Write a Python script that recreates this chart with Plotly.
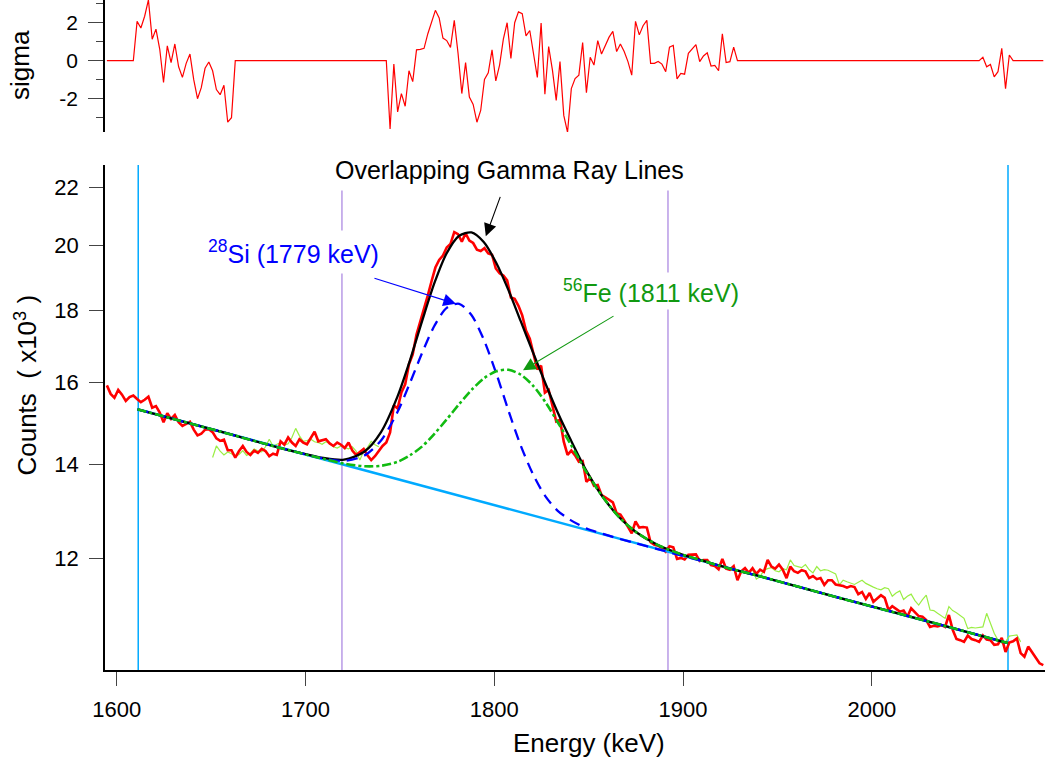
import numpy as np
import plotly.graph_objects as go

# ---------------- data ----------------
CH_START = 1594.8   # keV, energy of first channel
CH_STEP = 2.0       # keV per channel

RED_COUNTS = [  # measured spectrum (x10^3 counts)
    15.92, 15.70, 15.60, 15.80, 15.68, 15.52, 15.62, 15.66,
    15.57, 15.49, 15.55, 15.63, 15.35, 15.39, 15.23, 14.99, 15.21, 15.07, 15.17, 14.99,
    14.90, 14.96, 15.00, 14.81, 14.67, 14.71, 14.81, 14.82, 14.75, 14.60, 14.54, 14.57,
    14.32, 14.32,
    14.15, 14.30, 14.42, 14.28, 14.21, 14.31, 14.26, 14.35, 14.30, 14.18, 14.24, 14.21,
    14.53, 14.45, 14.62, 14.50, 14.42, 14.58, 14.50, 14.46, 14.60, 14.76, 14.53, 14.55,
    14.58, 14.48, 14.42, 14.50, 14.45, 14.37, 14.50, 14.31, 14.21, 14.28, 14.35, 14.20,
    14.09, 14.18, 14.30, 14.42, 14.50,
    14.74, 15.41, 15.33, 15.74, 15.95, 16.48, 16.75, 17.30, 17.66, 18.01,
    18.44, 18.88, 19.30, 19.54, 19.68, 19.94, 20.06, 20.45, 20.38, 20.13,
    20.41, 20.17, 20.09, 19.87, 19.83, 19.92, 19.75, 19.71, 19.27, 19.12,
    19.05, 18.90, 18.38, 18.34, 18.13, 17.85, 17.41, 17.18, 16.74, 16.34,
    16.44, 15.73, 15.80, 15.43, 15.01, 15.05, 14.52, 14.21, 14.31, 14.20,
    14.05, 14.07, 13.60, 13.69, 13.51, 13.53, 13.31, 13.26, 13.21, 13.15,
    12.92, 12.89, 12.77, 12.64, 12.50, 12.75, 12.62, 12.63, 12.62, 12.32,
    12.27, 12.25, 12.20, 12.13, 12.24, 12.22, 11.99, 12.01, 11.98, 12.07,
    12.08, 12.08, 11.95, 11.97, 11.97, 11.87, 11.85, 11.79, 11.99, 11.80,
    11.78, 11.85,
    11.58, 11.75, 11.81, 11.72, 11.81, 11.70, 11.78, 11.74, 11.97, 11.84,
    11.80, 11.88, 11.78, 11.62, 11.84, 11.75, 11.72, 11.77, 11.75, 11.62,
    11.66, 11.60, 11.62, 11.49, 11.58, 11.58, 11.50, 11.49, 11.47, 11.44,
    11.47, 11.45, 11.32, 11.36, 11.23, 11.34, 11.18, 11.24, 11.30, 11.25,
    11.03, 11.10, 11.05, 11.00, 11.02, 10.91, 11.06, 10.98, 10.92, 10.91,
    10.85, 10.73, 10.75, 10.74, 10.76, 10.73, 10.94, 10.68, 10.52, 10.50,
    10.47, 10.58, 10.52, 10.50, 10.47,
    10.58, 10.51, 10.50, 10.42, 10.43, 10.54, 10.30, 10.46,
    10.48, 10.53, 10.28, 10.22, 10.39, 10.30, 10.19, 10.11, 10.08,
]

LIME_START_1 = 28
LIME_COUNTS_1 = [
    14.15, 14.42, 14.30, 14.21, 14.28, 14.24, 14.18, 14.22, 14.31, 14.20,
    14.25, 14.35, 14.30, 14.28, 14.40, 14.58, 14.42, 14.47, 14.50, 14.44,
    14.47, 14.62, 14.84, 14.66, 14.53, 14.55, 14.58, 14.52, 14.50, 14.46,
    14.52, 14.48, 14.40, 14.37, 14.42, 14.38, 14.35, 14.40, 14.30, 14.09,
    14.30, 14.38, 14.53, 14.45, 14.40,
]
LIME_START_2 = 171
LIME_COUNTS_2 = [
    11.78, 11.60, 11.65, 11.77, 11.80, 11.82, 11.76, 11.74, 11.80, 11.78,
    11.97, 11.86, 11.84, 11.82, 11.88, 11.78, 11.72, 11.84, 11.76, 11.78,
    11.77, 11.74, 11.70, 11.49, 11.58, 11.55, 11.52, 11.50, 11.54, 11.58,
    11.52, 11.48, 11.45, 11.42, 11.40, 11.44, 11.42, 11.28, 11.34, 11.38,
    11.22, 11.28, 11.32, 11.20, 11.12, 11.22, 11.30, 11.03, 11.02, 10.97,
    10.93, 10.88, 11.09, 11.02, 10.98, 10.93, 10.88, 10.70, 10.72, 10.71,
    10.72, 10.73, 10.97, 10.80, 10.62, 10.50, 10.45, 10.47, 10.57, 10.58,
    10.59, 10.47,
]

SIGMA_START_1 = 8
SIGMA_SEG_1 = [2.07, 1.72, 2.34, 3.2, 1.13, 1.66, 0.6, -1.15, 0.78, -0.1, 0.88, -0.32,
               -0.88, -0.14, 0.35, -1.0, -2.0, -1.42, -0.4, -0.07, -0.53, -1.52, -1.79,
               -1.29, -3.24, -3.0]
SIGMA_START_2 = 75
SIGMA_SEG_2 = [-3.6, -0.18, -2.7, -1.73, -2.4, -0.53, -1.1, 0.57, 0.6, 0.65,
               1.42, 2.0, 2.65, 2.25, 1.19, 1.06, 0.7, 2.12, 0.39, -1.73,
               -0.1, -1.91, -2.3, -3.24, -2.62, -0.99, -0.64, 0.57, -1.06, -0.23,
               1.13, 2.0, 0.12, 2.0, 2.57, 2.48, 1.31, 1.59, 0.35, -0.88,
               1.98, -1.77, 0.74, -0.5, -2.09, -0.05, -2.88, -3.77, -1.47, -0.94,
               -0.76, 0.96, -1.68, 0.18, -0.23, 1.06, 0.35, 0.78, 1.24, 1.54,
               0.48, 0.88, 0.48, -0.05, -0.76, 2.07, 1.36, 1.84, 2.12, -0.14,
               -0.14, -0.04, -0.18, -0.58, 0.71, 0.81, -0.96, -0.67, -0.71, 0.39,
               0.6, 0.85, -0.05, 0.25, 0.42, -0.28, -0.25, -0.53, 1.42, -0.1,
               -0.05, 0.71]
SIGMA_START_3 = 232
SIGMA_SEG_3 = [0.18, -0.32, -0.2, -0.85, -0.58, 0.65, -1.47, 0.3]

# fit curves (x10^3 counts)
FIT_ENERGY = [1611.0, 1655.1, 1687.8, 1709.5, 1720.4, 1731.3, 1740.0, 1748.7, 1755.3,
              1761.8, 1768.3, 1774.8, 1781.4, 1787.9, 1794.4, 1801.0, 1807.5, 1814.0,
              1820.6, 1827.1, 1833.6, 1840.2, 1848.9, 1857.6, 1866.3, 1875.0, 1885.9,
              1896.8, 1909.8, 1922.9, 1938.1, 1981.7, 2036.1, 2072.0]
FIT_TOTAL = [15.31, 14.76, 14.36, 14.14, 14.10, 14.29, 14.75, 15.63, 16.58, 17.69,
             18.82, 19.76, 20.33, 20.44, 20.12, 19.45, 18.60, 17.68, 16.79, 15.97,
             15.23, 14.59, 13.84, 13.26, 12.83, 12.53, 12.28, 12.11, 11.96, 11.82,
             11.68, 11.26, 10.77, 10.45]
FIT_SI = [15.31, 14.76, 14.36, 14.13, 14.07, 14.20, 14.55, 15.24, 15.98, 16.79,
          17.55, 18.07, 18.19, 17.86, 17.16, 16.24, 15.28, 14.43, 13.76, 13.28,
          12.97, 12.78, 12.60, 12.49, 12.39, 12.30, 12.19, 12.08, 11.95, 11.82,
          11.68, 11.26, 10.77, 10.45]
FIT_FE = [15.31, 14.76, 14.36, 14.12, 14.01, 13.95, 13.96, 14.05, 14.20, 14.41,
          14.71, 15.06, 15.44, 15.80, 16.10, 16.29, 16.33, 16.20, 15.91, 15.49,
          14.99, 14.48, 13.81, 13.26, 12.83, 12.53, 12.28, 12.11, 11.96, 11.82,
          11.68, 11.26, 10.77, 10.45]
BASE_ENERGY = [1611.0, 2072.0]
BASE_COUNTS = [15.31, 10.45]

CYAN_MARKERS = [1611.4, 2072.1]
PURPLE_MARKERS = [1719.3, 1892.0]

X_TICKS = [1600, 1700, 1800, 1900, 2000]
Y_TICKS = [12, 14, 16, 18, 20, 22]
SIGMA_TICKS = [-2, 0, 2]
SIGMA_MINOR = [-3, -1, 1, 3]

# ---------------- build ----------------
n = len(RED_COUNTS)
energy = CH_START + CH_STEP * np.arange(n)

sigma = [0.0] * n
for start, seg in ((SIGMA_START_1, SIGMA_SEG_1), (SIGMA_START_2, SIGMA_SEG_2),
                   (SIGMA_START_3, SIGMA_SEG_3)):
    for k, v in enumerate(seg):
        sigma[start + k] = v

lime_x, lime_y = [], []
for start, seg in ((LIME_START_1, LIME_COUNTS_1), (LIME_START_2, LIME_COUNTS_2)):
    lime_x += list(energy[start:start + len(seg)]) + [None]
    lime_y += list(seg) + [None]

FONT = "Liberation Sans, Arial, sans-serif"
fig = go.Figure()

# top panel: residuals
fig.add_trace(go.Scatter(x=energy, y=sigma, mode="lines", xaxis="x2", yaxis="y2",
                         line=dict(color="#ff0000", width=1.2), showlegend=False))

# main panel
fig.add_trace(go.Scatter(x=lime_x, y=lime_y, mode="lines", connectgaps=False,
                         line=dict(color="#9aee44", width=1.2), showlegend=False))
fig.add_trace(go.Scatter(x=energy, y=RED_COUNTS, mode="lines",
                         line=dict(color="#ff0000", width=2.6), showlegend=False))
fig.add_trace(go.Scatter(x=BASE_ENERGY, y=BASE_COUNTS, mode="lines",
                         line=dict(color="#00aaff", width=2.5), showlegend=False))
fig.add_trace(go.Scatter(x=FIT_ENERGY, y=FIT_TOTAL, mode="lines",
                         line=dict(color="#000000", width=2.3, shape="spline", smoothing=0.8),
                         showlegend=False))
fig.add_trace(go.Scatter(x=FIT_ENERGY, y=FIT_SI, mode="lines",
                         line=dict(color="#0000ff", width=2.3, dash="11px,7px",
                                   shape="spline", smoothing=0.8), showlegend=False))
fig.add_trace(go.Scatter(x=FIT_ENERGY, y=FIT_FE, mode="lines",
                         line=dict(color="#11bb11", width=2.6, dash="9px,3px,3px,3px",
                                   shape="spline", smoothing=0.8), showlegend=False))

shapes = []
for xv in CYAN_MARKERS:
    shapes.append(dict(type="line", xref="x", yref="y domain", x0=xv, x1=xv, y0=0, y1=1,
                       line=dict(color="#00aaff", width=1.5), layer="below"))
for xv in PURPLE_MARKERS:
    shapes.append(dict(type="line", xref="x", yref="y domain", x0=xv, x1=xv, y0=0, y1=1,
                       line=dict(color="#b89ae6", width=1.5), layer="below"))

annotations = [
    # arrows
    dict(x=1795.5, y=1.3077, xref="x", yref="y", ax=15, ay=-41, text="",
         showarrow=True, arrowhead=2, arrowsize=2.3, arrowwidth=1.1, arrowcolor="#000000",
         standoff=0),
    dict(x=1779.7, y=1.2598, xref="x", yref="y", ax=-83, ay=-26, text="",
         showarrow=True, arrowhead=2, arrowsize=2.3, arrowwidth=1.1, arrowcolor="#0000ff",
         standoff=0),
    dict(x=1815.2, y=1.2127, xref="x", yref="y", ax=92, ay=-55, text="",
         showarrow=True, arrowhead=2, arrowsize=2.3, arrowwidth=1.1, arrowcolor="#119911",
         standoff=0),
    # labels
    dict(x=0.4298, y=0.7463, xref="paper", yref="paper", text="Overlapping Gamma Ray Lines",
         showarrow=False, font=dict(family=FONT, size=25, color="#000000"),
         bgcolor="#ffffff", borderpad=6, xanchor="center", yanchor="middle"),
    dict(x=0.2000, y=0.6239, xref="paper", yref="paper", text="<sup>28</sup>Si (1779 keV)",
         showarrow=False, font=dict(family=FONT, size=25, color="#0000ff"),
         bgcolor="#ffffff", borderpad=5, xanchor="center", yanchor="middle"),
    dict(x=0.5805, y=0.5657, xref="paper", yref="paper", text="<sup>56</sup>Fe (1811 keV)",
         showarrow=False, font=dict(family=FONT, size=25, color="#119911"),
         bgcolor="#ffffff", borderpad=2, xanchor="center", yanchor="middle"),
    # axis titles
    dict(x=0.5144, y=-0.109, xref="paper", yref="paper", text="Energy (keV)",
         showarrow=False, font=dict(family=FONT, size=26, color="#000000"),
         xanchor="center", yanchor="middle"),
    dict(x=-0.0840, y=0.4246, xref="paper", yref="paper", text="Counts  ( x10<sup>3</sup> )",
         showarrow=False, textangle=-90, font=dict(family=FONT, size=26, color="#000000"),
         xanchor="center", yanchor="middle"),
    dict(x=-0.0905, y=0.903, xref="paper", yref="paper", text="sigma",
         showarrow=False, textangle=-90, font=dict(family=FONT, size=26, color="#000000"),
         xanchor="center", yanchor="middle"),
]

XR = [1593.8, 2091.7]
fig.update_layout(
    width=1045, height=759,
    margin=dict(l=105, r=0, t=0, b=89),
    paper_bgcolor="#ffffff", plot_bgcolor="#ffffff",
    font=dict(family=FONT, size=22, color="#000000"),
    showlegend=False,
    shapes=shapes,
    annotations=annotations,
    xaxis=dict(domain=[0, 1], range=XR, anchor="y", showgrid=False, zeroline=False,
               showline=True, linecolor="#000000", linewidth=1.5,
               ticks="outside", ticklen=14, tickwidth=1.3, tickcolor="#444444",
               tickvals=X_TICKS, ticktext=[str(v) for v in X_TICKS],
               tickfont=dict(family=FONT, size=22), ticklabelstandoff=5),
    yaxis=dict(domain=[0, 0.7537], type="log", range=[1.0, 1.3583], anchor="x",
               showgrid=False, zeroline=False, showline=True, linecolor="#000000",
               linewidth=1.5, ticks="outside", ticklen=14, tickwidth=1.3,
               tickcolor="#444444", tickvals=Y_TICKS, ticktext=[str(v) for v in Y_TICKS],
               tickfont=dict(family=FONT, size=22), ticklabelstandoff=6),
    xaxis2=dict(domain=[0, 1], range=XR, anchor="y2", matches="x", visible=False),
    yaxis2=dict(domain=[0.803, 1], range=[-3.753, 3.195], anchor="x2", showgrid=False,
                zeroline=False, showline=True, linecolor="#000000", linewidth=1.5,
                ticks="outside", ticklen=15, tickwidth=1.3, tickcolor="#444444",
                tickvals=SIGMA_TICKS, ticktext=[str(v) for v in SIGMA_TICKS],
                tickfont=dict(family=FONT, size=21), ticklabelstandoff=6,
                minor=dict(tickvals=SIGMA_MINOR, ticks="outside", ticklen=7,
                           tickwidth=1.3, tickcolor="#444444")),
)

fig.write_html("out.html")
